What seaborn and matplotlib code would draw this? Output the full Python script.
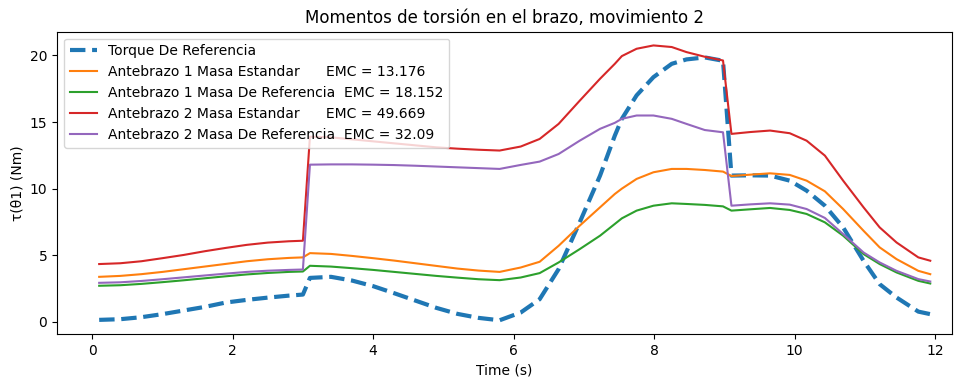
import numpy as np
import pandas as pd
import matplotlib
matplotlib.use("Agg")
import matplotlib.pyplot as plt
import seaborn as sns

time = [0.1, 0.4, 0.7, 1.0, 1.3, 1.6, 1.9, 2.2, 2.5, 2.8, 3.0,
        3.1, 3.4, 3.7, 4.0, 4.3, 4.6, 4.9, 5.2, 5.5, 5.8,
        6.1, 6.37, 6.64, 6.94, 7.23, 7.44, 7.54, 7.75, 7.99, 8.25, 8.46, 8.72, 8.98,
        9.1, 9.37, 9.65, 9.93, 10.17, 10.43, 10.69, 10.98, 11.21, 11.45, 11.76, 11.93]

torque_ref = [0.15, 0.2, 0.35, 0.58, 0.85, 1.12, 1.45, 1.65, 1.82, 1.97, 2.05,
              3.3, 3.38, 3.1, 2.68, 2.15, 1.6, 1.05, 0.6, 0.3, 0.12,
              0.7, 1.7, 3.96, 7.47, 10.98, 13.98, 15.24, 17.0, 18.37, 19.37, 19.7, 19.85, 19.6,
              10.98, 11.0, 10.98, 10.6, 9.85, 8.72, 7.09, 4.59, 2.83, 1.83, 0.77, 0.58]

ante1_std = [3.38, 3.45, 3.58, 3.75, 3.95, 4.15, 4.35, 4.55, 4.7, 4.8, 4.84,
             5.16, 5.1, 4.95, 4.78, 4.6, 4.4, 4.2, 4.0, 3.85, 3.75,
             4.08, 4.51, 5.71, 7.22, 8.6, 9.6, 10.0, 10.73, 11.23, 11.48, 11.48, 11.4, 11.28,
             10.95, 11.05, 11.15, 11.03, 10.6, 9.8, 8.47, 6.84, 5.59, 4.71, 3.83, 3.58]

ante1_ref = [2.71, 2.75, 2.85, 2.98, 3.12, 3.27, 3.42, 3.56, 3.67, 3.75, 3.78,
             4.21, 4.15, 4.03, 3.9, 3.75, 3.6, 3.45, 3.32, 3.2, 3.13,
             3.33, 3.66, 4.46, 5.46, 6.47, 7.35, 7.77, 8.35, 8.72, 8.9, 8.85, 8.78, 8.67,
             8.35, 8.45, 8.55, 8.4, 8.1, 7.47, 6.47, 5.09, 4.34, 3.71, 3.08, 2.88]

ante2_std = [4.34, 4.4, 4.55, 4.78, 5.02, 5.3, 5.55, 5.78, 5.95, 6.05, 6.09,
             13.9, 13.85, 13.7, 13.55, 13.4, 13.25, 13.1, 13.0, 12.92, 12.86,
             13.16, 13.73, 14.86, 16.6, 18.25, 19.37, 19.95, 20.5, 20.75, 20.63, 20.25, 19.9, 19.62,
             14.11, 14.25, 14.36, 14.16, 13.6, 12.48, 10.6, 8.6, 7.09, 5.96, 4.84, 4.59]

ante2_ref = [2.93, 2.97, 3.07, 3.2, 3.34, 3.48, 3.62, 3.75, 3.84, 3.9, 3.93,
             11.8, 11.82, 11.82, 11.8, 11.77, 11.72, 11.66, 11.6, 11.54, 11.48,
             11.78, 12.03, 12.6, 13.6, 14.49, 14.94, 15.24, 15.49, 15.49, 15.24, 14.86, 14.4, 14.23,
             8.72, 8.82, 8.9, 8.8, 8.47, 7.8, 6.59, 5.21, 4.46, 3.83, 3.21, 3.03]

labels = ["Torque De Referencia",
          "Antebrazo 1 Masa Estandar      EMC = 13.176",
          "Antebrazo 1 Masa De Referencia  EMC = 18.152",
          "Antebrazo 2 Masa Estandar      EMC = 49.669",
          "Antebrazo 2 Masa De Referencia  EMC = 32.09"]

series = [torque_ref, ante1_std, ante1_ref, ante2_std, ante2_ref]
colors = ["#1f77b4", "#ff7f0e", "#2ca02c", "#d62728", "#9467bd"]

plt.style.use("default")
plt.rcParams['font.family'] = ['DejaVu Sans']

fig, ax = plt.subplots(figsize=(9.6, 3.79), dpi=100)
fig.subplots_adjust(left=0.0594, right=0.9917, top=0.9164, bottom=0.1187)

for i, (vals, lab, col) in enumerate(zip(series, labels, colors)):
    df = pd.DataFrame({"t": time, "v": vals})
    if i == 0:
        sns.lineplot(data=df, x="t", y="v", ax=ax, color=col, linewidth=3,
                     linestyle="--", label=lab)
    else:
        sns.lineplot(data=df, x="t", y="v", ax=ax, color=col, linewidth=1.5,
                     label=lab)

ax.set_xlim(-0.5, 12.24)
ax.set_xticks([0, 2, 4, 6, 8, 10, 12])
ax.set_yticks([0, 5, 10, 15, 20])
ax.set_title("Momentos de torsión en el brazo, movimiento 2", fontsize=12)
ax.set_xlabel("Time (s)")
ax.set_ylabel("τ(θ1) (Nm)")
ax.legend(loc="upper left", fontsize=10)

fig.savefig("out.png", dpi=100)
